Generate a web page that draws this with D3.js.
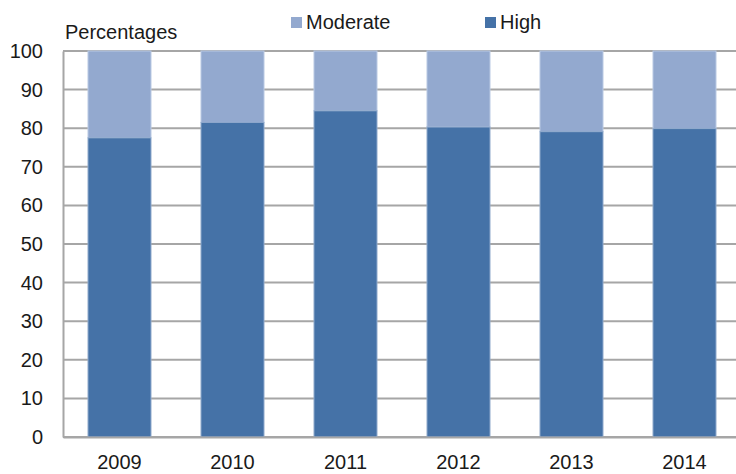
<!DOCTYPE html>
<html>
<head>
<meta charset="utf-8">
<script src="https://cdn.jsdelivr.net/npm/d3@7"></script>
<style>
  body { margin: 0; background: #fff; }
  svg text { font-family: "Liberation Sans", Arial, sans-serif; fill: #1a1a1a; }
</style>
</head>
<body>
<div id="chart"></div>
<script>
// chart data
let years = ["2009", "2010", "2011", "2012", "2013", "2014"];
let high = [77.5, 81.5, 84.5, 80.3, 79.1, 79.9];
let moderate = high.map(function (d) { return 100 - d; });
let yTicks = [0, 10, 20, 30, 40, 50, 60, 70, 80, 90, 100];

let margin = {top: 51, right: -5, bottom: 37, left: 63};
let width = 736 - margin.left - margin.right;
let height = 474 - margin.top - margin.bottom;

let svg = d3.select("#chart").append("svg")
    .attr("width", 736)
    .attr("height", 474)
    .append("g")
    .attr("transform", "translate(" + margin.left + "," + margin.top + ")");

let x = d3.scaleBand()
    .domain(years)
    .range([0, width])
    .paddingInner(50 / 113)
    .paddingOuter(25 / 113);

let y = d3.scaleLinear().domain([0, 100]).range([height, 0]);

// gridlines
svg.append("g")
    .selectAll("line")
    .data(yTicks)
    .enter().append("line")
    .attr("x1", 0)
    .attr("x2", width)
    .attr("y1", function (d) { return y(d); })
    .attr("y2", function (d) { return y(d); })
    .attr("stroke", "#a6a6a6")
    .attr("stroke-width", 2);

// moderate on top of high
svg.append("g")
    .selectAll("rect")
    .data(years)
    .enter().append("rect")
    .attr("x", function (d) { return x(d); })
    .attr("width", x.bandwidth())
    .attr("y", function (d, i) { return y(100); })
    .attr("height", function (d, i) { return y(high[i]) - y(100); })
    .attr("fill", "#93a9cf")
    .attr("stroke", "#b9c9e3")
    .attr("stroke-width", 1);

svg.append("g")
    .selectAll("rect")
    .data(years)
    .enter().append("rect")
    .attr("x", function (d) { return x(d); })
    .attr("width", x.bandwidth())
    .attr("y", function (d, i) { return y(high[i]); })
    .attr("height", function (d, i) { return y(0) - y(high[i]); })
    .attr("fill", "#4572a7")
    .attr("stroke", "#8fa9cc")
    .attr("stroke-width", 1);

// axes
let yAxis = svg.append("g")
    .call(d3.axisLeft(y).tickValues(yTicks).tickSize(0).tickPadding(20));
yAxis.select(".domain").attr("stroke", "#a6a6a6").attr("stroke-width", 2);
yAxis.selectAll("text").style("font-size", "20px");

let xAxis = svg.append("g")
    .attr("transform", "translate(0," + height + ")")
    .call(d3.axisBottom(x).tickSize(0).tickPadding(18));
xAxis.select(".domain").attr("stroke", "#a6a6a6").attr("stroke-width", 2);
xAxis.selectAll("text").style("font-size", "20px");

// axis title
svg.append("text")
    .attr("x", 2)
    .attr("y", -12)
    .style("font-size", "20px")
    .text("Percentages");

// legend
let legend = [
    {name: "Moderate", color: "#93a9cf", x: 291},
    {name: "High", color: "#4572a7", x: 485}
];
let lg = d3.select("svg").append("g");
legend.forEach(function (l) {
    lg.append("rect")
        .attr("x", l.x)
        .attr("y", 17)
        .attr("width", 11)
        .attr("height", 11)
        .attr("fill", l.color);
    lg.append("text")
        .attr("x", l.x + 15)
        .attr("y", 29)
        .style("font-size", "20px")
        .text(l.name);
});
</script>
</body>
</html>
